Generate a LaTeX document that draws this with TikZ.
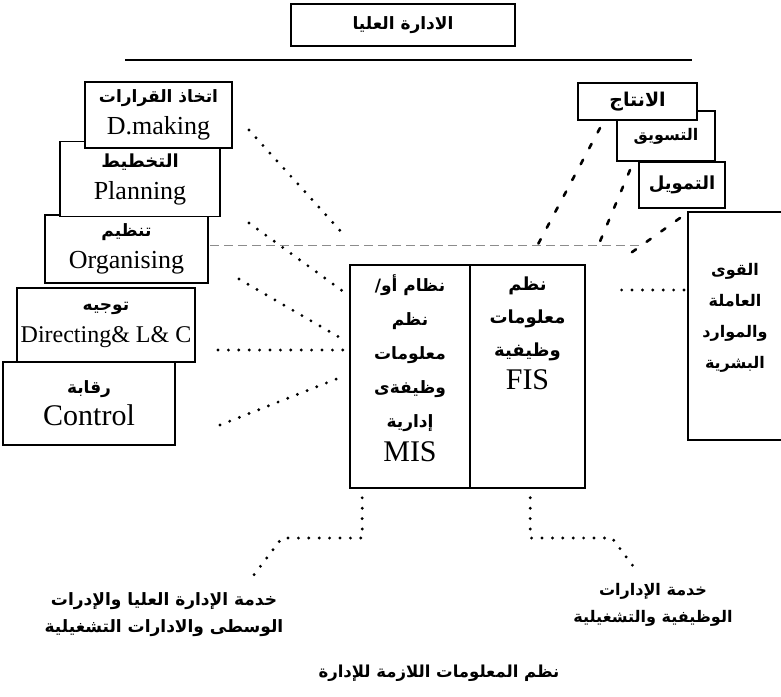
\documentclass[tikz,border=0pt]{standalone}
\usepackage{fontspec}
\setmainfont{Liberation Serif}
\newfontfamily\arabicfont[Script=Arabic]{DejaVu Sans}
\TeXXeTstate=1
\usetikzlibrary{shapes,calc}
\newcommand{\artx}[1]{{\arabicfont\bfseries\beginR #1\endR}}
\newcommand{\entx}[1]{{\fontsize{26}{30}\selectfont #1}}
\tikzstyle{block} = [rectangle, draw, line width=1.6pt, fill=white, align=center,
inner sep=1pt, font=\fontsize{17}{32}\selectfont]
\tikzstyle{label} = [align=center, font=\fontsize{17}{27}\selectfont]
\tikzstyle{dotline} = [draw, line width=3.2pt, line cap=round, dash pattern=on 0pt off 10.4pt]
\tikzstyle{dashline} = [draw, line width=2.6pt, line cap=round, dash pattern=on 5pt off 13pt]
\tikzstyle{faint} = [draw, black!45, line width=0.8pt, dash pattern=on 9pt off 5pt]

\begin{document}
\begin{tikzpicture}[x=1pt, y=-1pt]
        \useasboundingbox (0,0) rectangle (781,696);
        \fill [white] (0,0) rectangle (781,696);

        % top management
        \node [block, minimum width=224, minimum height=42, font=\fontsize{17}{22}\selectfont] (top) at (403,25) {\artx{الادارة العليا}};
        \coordinate (hleft) at (125,60);
        \coordinate (hright) at (692,60);
        \draw [line width=1.8pt] (hleft) -- (hright);

        % faint line across the middle
        \coordinate (fleft) at (210,245);
        \coordinate (fright) at (640,245);
        \path [faint] (fleft) -- (fright);

        % management functions, left
        \node [block, minimum width=172, minimum height=83] (control) at (89,403.5) {\artx{رقابة}\\{\fontsize{30}{34}\selectfont Control}};
        \node [block, minimum width=178, minimum height=74] (directing) at (106,325) {\artx{توجيه}\\{\fontsize{24}{30}\selectfont Directing\& L\& C}};
        \node [block, minimum width=163, minimum height=68] (organising) at (126.5,249) {\artx{تنظيم}\\\entx{Organising}};
        \node [block, minimum width=160, minimum height=75, font=\fontsize{18}{32}\selectfont] (planning) at (140,179) {\artx{التخطيط}\\\entx{Planning}};
        \node [block, minimum width=147, minimum height=66] (dmaking) at (158.5,115) {\artx{اتخاذ القرارات}\\\entx{D.making}};

        % business functions, right
        \node [block, minimum width=96, minimum height=228] (hr) at (736,326) {};
        \node [label, font=\fontsize{16}{31}\selectfont] (hrtxt) at (735,318) {\artx{القوى}\\\artx{العاملة}\\\artx{والموارد}\\\artx{البشرية}};
        \node [block, minimum width=86, minimum height=46, font=\fontsize{18}{22}\selectfont] (finance) at (682,185) {\artx{التمويل}};
        \node [block, minimum width=98, minimum height=50, font=\fontsize{16}{22}\selectfont] (marketing) at (666,136) {\artx{التسويق}};
        \node [block, minimum width=119, minimum height=37, font=\fontsize{19}{22}\selectfont] (production) at (637.5,101.5) {\artx{الانتاج}};

        % information systems
        \node [block, minimum width=120, minimum height=223] (misbox) at (410,376.5) {};
        \node [block, minimum width=115, minimum height=223] (fisbox) at (527.5,376.5) {};
        \node [label, font=\fontsize{17}{34}\selectfont] (mistxt) at (410,368) {\artx{نظام أو/}\\\artx{نظم}\\\artx{معلومات}\\\artx{وظيفةى}\\\artx{إدارية}\\{\fontsize{30}{34}\selectfont MIS}};
        \node [label, font=\fontsize{18}{33}\selectfont] (fistxt) at (527.5,333) {\artx{نظم}\\\artx{معلومات}\\\artx{وظيفية}\\{\fontsize{30}{34}\selectfont FIS}};

        % served levels
        \node [label] (misuse) at (164,615) {\artx{خدمة الإدارة العليا والإدرات}\\\artx{الوسطى والادارات التشغيلية}};
        \node [label, font=\fontsize{16}{27}\selectfont] (fisuse) at (653,605) {\artx{خدمة الإدارات}\\\artx{الوظيفية والتشغيلية}};
        \node [label, font=\fontsize{16.5}{20}\selectfont] (caption) at (439,673) {\artx{نظم المعلومات اللازمة للإدارة}};

        % end points of the dotted links
        \coordinate (l1s) at (249,130); \coordinate (l1e) at (345,236);
        \coordinate (l2s) at (249,223); \coordinate (l2e) at (344,292);
        \coordinate (l3s) at (239,279); \coordinate (l3e) at (344,340);
        \coordinate (l4s) at (218,350); \coordinate (l4e) at (344,350);
        \coordinate (l5s) at (220,425); \coordinate (l5e) at (344,376);
        \coordinate (r1s) at (600,128); \coordinate (r1e) at (536,248);
        \coordinate (r2s) at (630,170); \coordinate (r2e) at (596,251);
        \coordinate (r3s) at (680,218); \coordinate (r3e) at (628,255);
        \coordinate (r4s) at (684,290); \coordinate (r4e) at (612,290);
        \coordinate (mbend) at (282,538); \coordinate (mend) at (250,580);
        \coordinate (fbend) at (612,538); \coordinate (fend) at (633,566);

        \path [dotline] (l1s) -- (l1e);
        \path [dotline] (l2s) -- (l2e);
        \path [dotline] (l3s) -- (l3e);
        \path [dotline] (l4s) -- (l4e);
        \path [dotline] (l5s) -- (l5e);
        \path [dashline] (r1s) -- (r1e);
        \path [dashline] (r2s) -- (r2e);
        \path [dashline] (r3s) -- (r3e);
        \path [dotline] (r4s) -- (r4e);
        \path [dotline] ($(misbox.south west)+(13,9)$) |- (mbend) -- (mend);
        \path [dotline] ($(fisbox.south west)+(61,9)$) |- (fbend) -- (fend);
      \end{tikzpicture}
\end{document}
